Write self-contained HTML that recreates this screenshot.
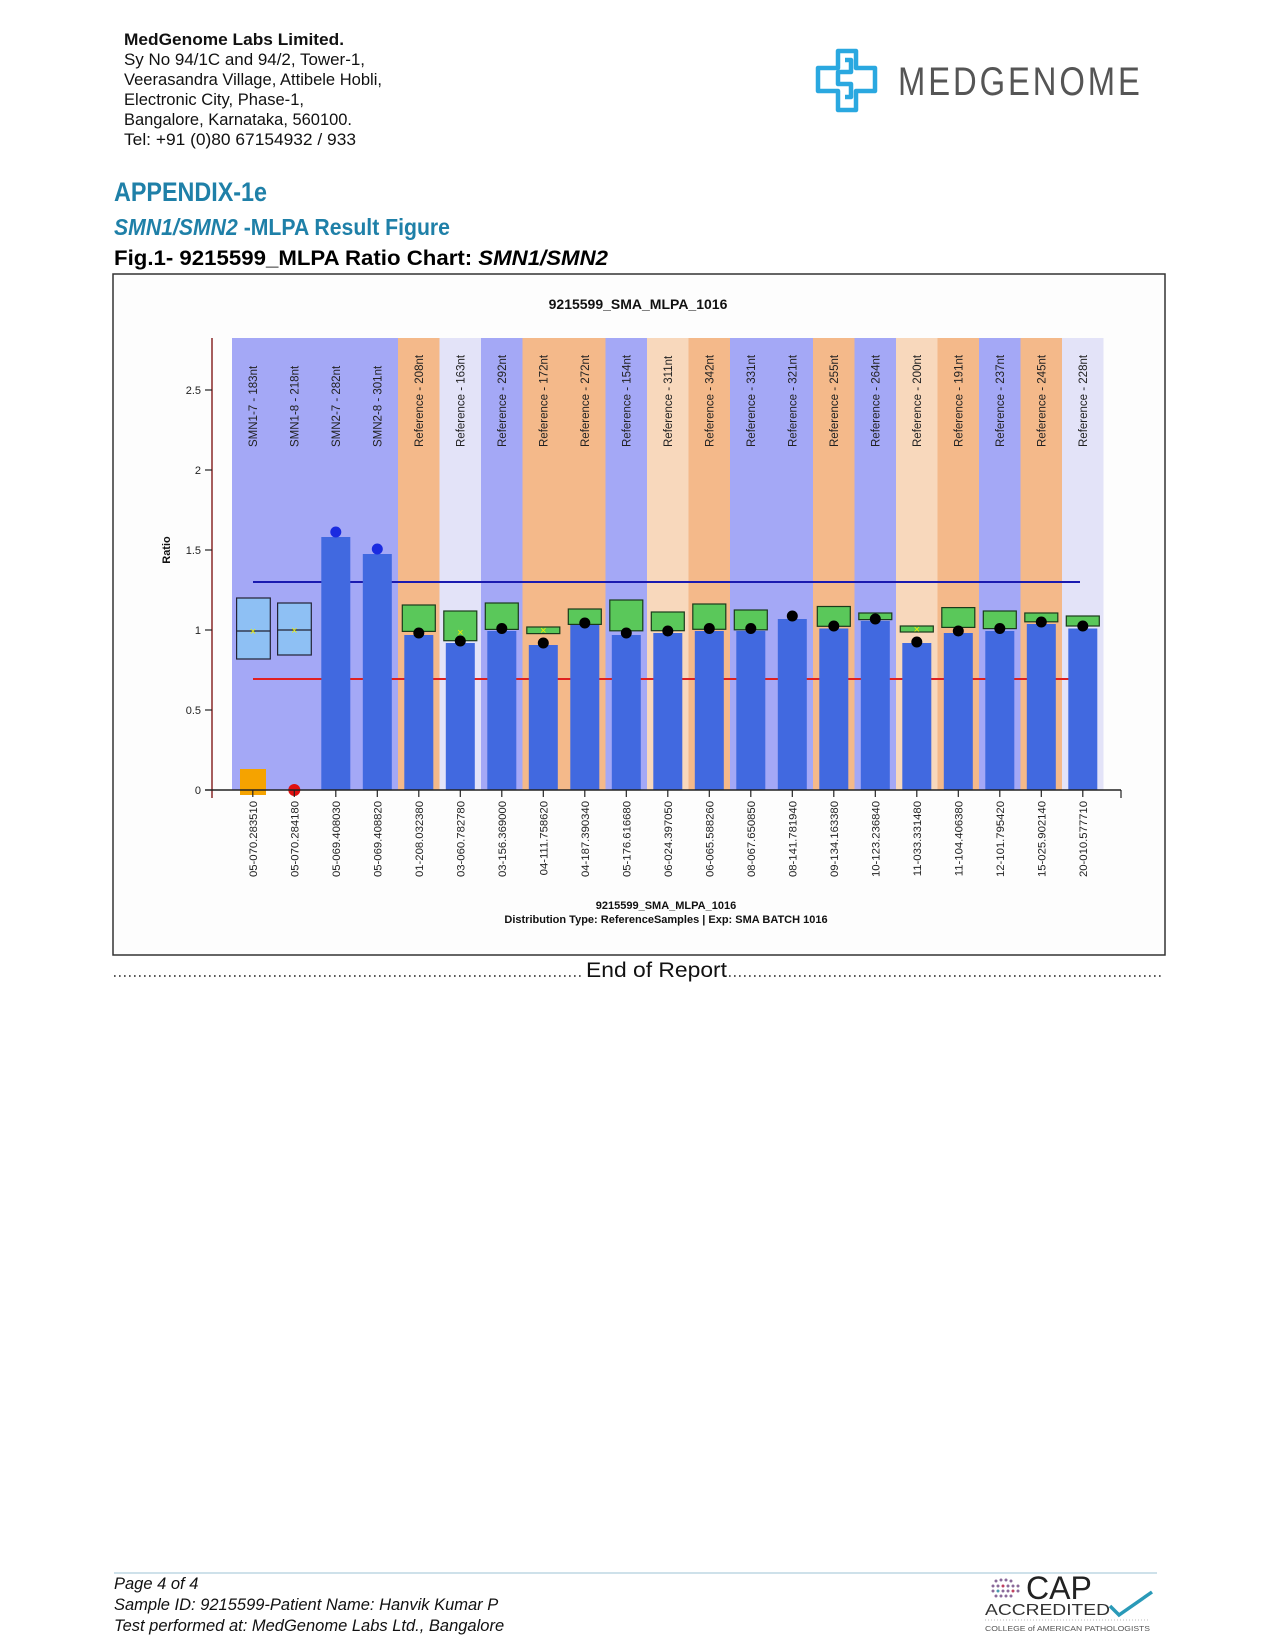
<!DOCTYPE html>
<html><head><meta charset="utf-8"><style>
html,body{margin:0;padding:0;background:#fff;}
svg{display:block;}
text{font-family:"Liberation Sans",Arial,sans-serif;}
</style></head><body>
<svg width="1275" height="1650" viewBox="0 0 1275 1650" xmlns="http://www.w3.org/2000/svg">
<!-- header -->
<g font-size="16.5" fill="#111">
<text x="124" y="45" font-weight="bold" textLength="220" lengthAdjust="spacingAndGlyphs">MedGenome Labs Limited.</text>
<text x="124" y="65" textLength="241" lengthAdjust="spacingAndGlyphs">Sy No 94/1C and 94/2, Tower-1,</text>
<text x="124" y="85" textLength="258" lengthAdjust="spacingAndGlyphs">Veerasandra Village, Attibele Hobli,</text>
<text x="124" y="105" textLength="180" lengthAdjust="spacingAndGlyphs">Electronic City, Phase-1,</text>
<text x="124" y="125" textLength="228" lengthAdjust="spacingAndGlyphs">Bangalore, Karnataka, 560100.</text>
<text x="124" y="145" textLength="232" lengthAdjust="spacingAndGlyphs">Tel: +91 (0)80 67154932 / 933</text>
</g>
<!-- logo -->
<g fill="none" stroke="#2aa8e0" stroke-width="4.5" stroke-linejoin="round">
<path d="M838 51 H856 V68 H875 V91 H856 V110 H838 V91 H818 V68 H838 Z"/>
<path d="M845 60 H851 V72 H838 V84 H851 V97 H845"/>
</g>
<text x="898" y="95" font-size="38" fill="#555" textLength="242" lengthAdjust="spacingAndGlyphs" transform="translate(898,95) scale(0.85,1) translate(-898,-95)" style="display:none">MEDGENOME</text>
<text x="898" y="95" font-size="40" fill="#555" transform="translate(898,95) scale(0.82,1) translate(-898,-95)" textLength="295" lengthAdjust="spacing">MEDGENOME</text>
<!-- titles -->
<text x="114" y="201" font-size="27" font-weight="bold" fill="#1f80a8" textLength="153" lengthAdjust="spacingAndGlyphs">APPENDIX-1e</text>
<text x="114" y="235" font-size="23" font-weight="bold" fill="#1f80a8" textLength="336" lengthAdjust="spacingAndGlyphs"><tspan font-style="italic">SMN1/SMN2</tspan> -MLPA Result Figure</text>
<text x="114" y="265" font-size="21" font-weight="bold" fill="#000" textLength="494" lengthAdjust="spacingAndGlyphs">Fig.1- 9215599_MLPA Ratio Chart: <tspan font-style="italic">SMN1/SMN2</tspan></text>

<!-- chart frame -->
<rect x="113" y="274" width="1052" height="681" fill="#fdfdfd" stroke="#333" stroke-width="1.5"/>
<text x="638" y="309" font-size="14" font-weight="bold" text-anchor="middle" fill="#111">9215599_SMA_MLPA_1016</text>

<!-- bands -->
<g>
<rect x="232" y="338" width="166" height="452" fill="#a4a8f6"/>
<rect x="398" y="338" width="41.5" height="452" fill="#f4b98a"/>
<rect x="439.5" y="338" width="41.5" height="452" fill="#e3e3f8"/>
<rect x="481" y="338" width="41.5" height="452" fill="#a4a8f6"/>
<rect x="522.5" y="338" width="83" height="452" fill="#f4b98a"/>
<rect x="605.5" y="338" width="41.5" height="452" fill="#a4a8f6"/>
<rect x="647" y="338" width="41.5" height="452" fill="#f8d8bc"/>
<rect x="688.5" y="338" width="41.5" height="452" fill="#f4b98a"/>
<rect x="730" y="338" width="83" height="452" fill="#a4a8f6"/>
<rect x="813" y="338" width="41.5" height="452" fill="#f4b98a"/>
<rect x="854.5" y="338" width="41.5" height="452" fill="#a4a8f6"/>
<rect x="896" y="338" width="41.5" height="452" fill="#f8d8bc"/>
<rect x="937.5" y="338" width="41.5" height="452" fill="#f4b98a"/>
<rect x="979" y="338" width="41.5" height="452" fill="#a4a8f6"/>
<rect x="1020.5" y="338" width="41.5" height="452" fill="#f4b98a"/>
<rect x="1062" y="338" width="41.5" height="452" fill="#e3e3f8"/>
</g>

<!-- band labels -->
<g font-size="11.5" fill="#222" text-anchor="start">
<text transform="translate(256.8,447) rotate(-90)">SMN1-7 - 183nt</text>
<text transform="translate(298.3,447) rotate(-90)">SMN1-8 - 218nt</text>
<text transform="translate(339.8,447) rotate(-90)">SMN2-7 - 282nt</text>
<text transform="translate(381.3,447) rotate(-90)">SMN2-8 - 301nt</text>
<text transform="translate(422.8,447) rotate(-90)">Reference - 208nt</text>
<text transform="translate(464.3,447) rotate(-90)">Reference - 163nt</text>
<text transform="translate(505.8,447) rotate(-90)">Reference - 292nt</text>
<text transform="translate(547.3,447) rotate(-90)">Reference - 172nt</text>
<text transform="translate(588.8,447) rotate(-90)">Reference - 272nt</text>
<text transform="translate(630.3,447) rotate(-90)">Reference - 154nt</text>
<text transform="translate(671.8,447) rotate(-90)">Reference - 311nt</text>
<text transform="translate(713.3,447) rotate(-90)">Reference - 342nt</text>
<text transform="translate(754.8,447) rotate(-90)">Reference - 331nt</text>
<text transform="translate(796.3,447) rotate(-90)">Reference - 321nt</text>
<text transform="translate(837.8,447) rotate(-90)">Reference - 255nt</text>
<text transform="translate(879.3,447) rotate(-90)">Reference - 264nt</text>
<text transform="translate(920.8,447) rotate(-90)">Reference - 200nt</text>
<text transform="translate(962.3,447) rotate(-90)">Reference - 191nt</text>
<text transform="translate(1003.8,447) rotate(-90)">Reference - 237nt</text>
<text transform="translate(1045.3,447) rotate(-90)">Reference - 245nt</text>
<text transform="translate(1086.8,447) rotate(-90)">Reference - 228nt</text>
</g>

<!-- threshold lines -->
<line x1="253" y1="679" x2="1080" y2="679" stroke="#e02020" stroke-width="2"/>
<line x1="253" y1="582" x2="1080" y2="582" stroke="#1a1ab0" stroke-width="2"/>

<!-- SMN1 boxes -->
<rect x="236.6" y="598" width="33.7" height="61" fill="#8ec0f4" stroke="#223" stroke-width="1.2"/>
<line x1="236.6" y1="631" x2="270.3" y2="631" stroke="#223" stroke-width="1.2"/>
<text x="253" y="635" font-size="11" fill="#ee0" text-anchor="middle">×</text>
<rect x="277.6" y="603" width="33.7" height="52" fill="#8ec0f4" stroke="#223" stroke-width="1.2"/>
<line x1="277.6" y1="630" x2="311.3" y2="630" stroke="#223" stroke-width="1.2"/>
<text x="294.3" y="634" font-size="11" fill="#ee0" text-anchor="middle">×</text>
<rect x="240" y="769" width="26" height="26" fill="#f5a300"/>
<circle cx="294.3" cy="790" r="6" fill="#e01010"/>

<!-- bars -->
<g fill="#4169e0">
<rect x="321.3" y="537" width="29" height="253"/>
<rect x="362.8" y="554" width="29" height="236"/>
<rect x="404.3" y="635" width="29" height="155"/>
<rect x="445.8" y="643" width="29" height="147"/>
<rect x="487.3" y="631" width="29" height="159"/>
<rect x="528.8" y="645" width="29" height="145"/>
<rect x="570.3" y="625" width="29" height="165"/>
<rect x="611.8" y="635" width="29" height="155"/>
<rect x="653.3" y="633" width="29" height="157"/>
<rect x="694.8" y="631" width="29" height="159"/>
<rect x="736.3" y="631" width="29" height="159"/>
<rect x="777.8" y="619" width="29" height="171"/>
<rect x="819.3" y="628.5" width="29" height="161.5"/>
<rect x="860.8" y="621" width="29" height="169"/>
<rect x="902.3" y="643" width="29" height="147"/>
<rect x="943.8" y="633" width="29" height="157"/>
<rect x="985.3" y="631" width="29" height="159"/>
<rect x="1026.8" y="624" width="29" height="166"/>
<rect x="1068.3" y="628.5" width="29" height="161.5"/>
</g>
<!-- green boxes -->
<g fill="#5ac85a" stroke="#1a3a1a" stroke-width="1.2">
<rect x="402.3" y="605" width="33" height="26.4"/>
<rect x="443.8" y="611" width="33" height="29.7"/>
<rect x="485.3" y="603" width="33" height="26.4"/>
<rect x="526.8" y="627" width="33" height="6.6"/>
<rect x="568.3" y="609" width="33" height="15.4"/>
<rect x="609.8" y="600" width="33" height="30.8"/>
<rect x="651.3" y="612" width="33" height="18.7"/>
<rect x="692.8" y="604" width="33" height="25.3"/>
<rect x="734.3" y="610" width="33" height="19.8"/>
<rect x="817.3" y="606.5" width="33" height="19.8"/>
<rect x="858.8" y="613" width="33" height="6.6"/>
<rect x="900.3" y="626" width="33" height="6"/>
<rect x="941.8" y="607.6" width="33" height="19.8"/>
<rect x="983.3" y="611" width="33" height="17.6"/>
<rect x="1024.8" y="613" width="33" height="8.8"/>
<rect x="1066.3" y="616" width="33" height="10"/>
</g>
<g font-size="11" fill="#ee0" text-anchor="middle">
<text x="460.3" y="636">×</text><text x="543.3" y="634">×</text><text x="916.8" y="633">×</text>
</g>
<!-- dots -->
<circle cx="335.8" cy="532" r="5.5" fill="#1a2be0"/>
<circle cx="377.3" cy="549" r="5.5" fill="#1a2be0"/>
<g fill="#000">
<circle cx="418.8" cy="633" r="5.5"/><circle cx="460.3" cy="641" r="5.5"/>
<circle cx="501.8" cy="628.5" r="5.5"/><circle cx="543.3" cy="643" r="5.5"/>
<circle cx="584.8" cy="623" r="5.5"/><circle cx="626.3" cy="633" r="5.5"/>
<circle cx="667.8" cy="631" r="5.5"/><circle cx="709.3" cy="628.5" r="5.5"/>
<circle cx="750.8" cy="628.5" r="5.5"/><circle cx="792.3" cy="616" r="5.5"/>
<circle cx="833.8" cy="626" r="5.5"/><circle cx="875.3" cy="619" r="5.5"/>
<circle cx="916.8" cy="642" r="5.5"/><circle cx="958.3" cy="631" r="5.5"/>
<circle cx="999.8" cy="628.5" r="5.5"/><circle cx="1041.3" cy="622" r="5.5"/>
<circle cx="1082.8" cy="626" r="5.5"/>
</g>

<!-- axes -->
<line x1="212" y1="338" x2="212" y2="798" stroke="#8a2a2a" stroke-width="1.5"/>
<line x1="205" y1="790" x2="1121" y2="790" stroke="#222" stroke-width="1.5"/>
<line x1="1121" y1="790" x2="1121" y2="798" stroke="#222" stroke-width="1.2"/>
<g stroke="#222" stroke-width="1.2">
<line x1="205" y1="390" x2="212" y2="390"/><line x1="205" y1="470" x2="212" y2="470"/>
<line x1="205" y1="550" x2="212" y2="550"/><line x1="205" y1="630" x2="212" y2="630"/>
<line x1="205" y1="710" x2="212" y2="710"/>
</g>
<g font-size="11" fill="#222" text-anchor="end">
<text x="201" y="394">2.5</text><text x="201" y="474">2</text><text x="201" y="554">1.5</text>
<text x="201" y="634">1</text><text x="201" y="714">0.5</text><text x="201" y="794">0</text>
</g>
<text transform="translate(170,550) rotate(-90)" font-size="11" font-weight="bold" text-anchor="middle" fill="#111">Ratio</text>

<!-- x ticks & labels -->
<g stroke="#222" stroke-width="1.2">
<line x1="252.8" y1="790" x2="252.8" y2="797"/><line x1="294.3" y1="790" x2="294.3" y2="797"/>
<line x1="335.8" y1="790" x2="335.8" y2="797"/><line x1="377.3" y1="790" x2="377.3" y2="797"/>
<line x1="418.8" y1="790" x2="418.8" y2="797"/><line x1="460.3" y1="790" x2="460.3" y2="797"/>
<line x1="501.8" y1="790" x2="501.8" y2="797"/><line x1="543.3" y1="790" x2="543.3" y2="797"/>
<line x1="584.8" y1="790" x2="584.8" y2="797"/><line x1="626.3" y1="790" x2="626.3" y2="797"/>
<line x1="667.8" y1="790" x2="667.8" y2="797"/><line x1="709.3" y1="790" x2="709.3" y2="797"/>
<line x1="750.8" y1="790" x2="750.8" y2="797"/><line x1="792.3" y1="790" x2="792.3" y2="797"/>
<line x1="833.8" y1="790" x2="833.8" y2="797"/><line x1="875.3" y1="790" x2="875.3" y2="797"/>
<line x1="916.8" y1="790" x2="916.8" y2="797"/><line x1="958.3" y1="790" x2="958.3" y2="797"/>
<line x1="999.8" y1="790" x2="999.8" y2="797"/><line x1="1041.3" y1="790" x2="1041.3" y2="797"/>
<line x1="1082.8" y1="790" x2="1082.8" y2="797"/>
</g>
<g font-size="11.3" fill="#222" text-anchor="end">
<text transform="translate(256.8,801) rotate(-90)">05-070.283510</text>
<text transform="translate(298.3,801) rotate(-90)">05-070.284180</text>
<text transform="translate(339.8,801) rotate(-90)">05-069.408030</text>
<text transform="translate(381.3,801) rotate(-90)">05-069.408820</text>
<text transform="translate(422.8,801) rotate(-90)">01-208.032380</text>
<text transform="translate(464.3,801) rotate(-90)">03-060.782780</text>
<text transform="translate(505.8,801) rotate(-90)">03-156.369000</text>
<text transform="translate(547.3,801) rotate(-90)">04-111.758620</text>
<text transform="translate(588.8,801) rotate(-90)">04-187.390340</text>
<text transform="translate(630.3,801) rotate(-90)">05-176.616680</text>
<text transform="translate(671.8,801) rotate(-90)">06-024.397050</text>
<text transform="translate(713.3,801) rotate(-90)">06-065.588260</text>
<text transform="translate(754.8,801) rotate(-90)">08-067.650850</text>
<text transform="translate(796.3,801) rotate(-90)">08-141.781940</text>
<text transform="translate(837.8,801) rotate(-90)">09-134.163380</text>
<text transform="translate(879.3,801) rotate(-90)">10-123.236840</text>
<text transform="translate(920.8,801) rotate(-90)">11-033.331480</text>
<text transform="translate(962.3,801) rotate(-90)">11-104.406380</text>
<text transform="translate(1003.8,801) rotate(-90)">12-101.795420</text>
<text transform="translate(1045.3,801) rotate(-90)">15-025.902140</text>
<text transform="translate(1086.8,801) rotate(-90)">20-010.577710</text>
</g>
<text x="666" y="909" font-size="11" font-weight="bold" text-anchor="middle" fill="#111">9215599_SMA_MLPA_1016</text>
<text x="666" y="923" font-size="11" font-weight="bold" text-anchor="middle" fill="#111">Distribution Type: ReferenceSamples | Exp:  SMA BATCH 1016</text>

<!-- end of report -->
<line x1="114" y1="976" x2="583" y2="976" stroke="#222" stroke-width="1.6" stroke-dasharray="1.6 3.4"/>
<text x="586" y="977" font-size="21" fill="#111" textLength="141" lengthAdjust="spacingAndGlyphs">End of Report</text>
<line x1="729" y1="976" x2="1163" y2="976" stroke="#222" stroke-width="1.6" stroke-dasharray="1.6 3.4"/>

<!-- footer -->
<line x1="114" y1="1573" x2="1157" y2="1573" stroke="#9cc3d6" stroke-width="1"/>
<g font-size="16.5" font-style="italic" fill="#111">
<text x="114" y="1589">Page 4 of 4</text>
<text x="114" y="1610">Sample ID: 9215599-Patient Name: Hanvik Kumar P</text>
<text x="114" y="1631">Test performed at: MedGenome Labs Ltd., Bangalore</text>
</g>
<!-- CAP logo -->
<g fill="#8a6a9a">
<circle cx="996" cy="1581" r="1.5"/><circle cx="1001" cy="1580" r="1.5"/><circle cx="1006" cy="1580" r="1.5"/><circle cx="1011" cy="1581" r="1.5"/>
<circle cx="993" cy="1586" r="1.5"/><circle cx="998" cy="1586" r="1.5"/><circle cx="1003" cy="1586" r="1.5" fill="#c04060"/><circle cx="1008" cy="1586" r="1.5"/><circle cx="1013" cy="1586" r="1.5"/><circle cx="1018" cy="1586" r="1.5"/>
<circle cx="993" cy="1591" r="1.5"/><circle cx="998" cy="1591" r="1.5" fill="#4a9ab0"/><circle cx="1003" cy="1591" r="1.5"/><circle cx="1008" cy="1591" r="1.5"/><circle cx="1013" cy="1591" r="1.5" fill="#c04060"/><circle cx="1018" cy="1591" r="1.5"/>
<circle cx="996" cy="1596" r="1.5"/><circle cx="1001" cy="1596" r="1.5"/><circle cx="1006" cy="1596" r="1.5"/><circle cx="1011" cy="1596" r="1.5"/>
</g>
<text x="1026" y="1599" font-size="32" fill="#222">CAP</text>
<text x="985" y="1615" font-size="16" fill="#333" textLength="125" lengthAdjust="spacingAndGlyphs">ACCREDITED</text>
<path d="M1110 1606 L1119 1615 L1152 1592" fill="none" stroke="#2a9ab8" stroke-width="3.5"/>
<line x1="985" y1="1620" x2="1150" y2="1620" stroke="#bbb" stroke-width="1" stroke-dasharray="1 2"/>
<text x="985" y="1631" font-size="7.5" fill="#555" textLength="165" lengthAdjust="spacingAndGlyphs">COLLEGE of AMERICAN PATHOLOGISTS</text>
</svg>
</body></html>
